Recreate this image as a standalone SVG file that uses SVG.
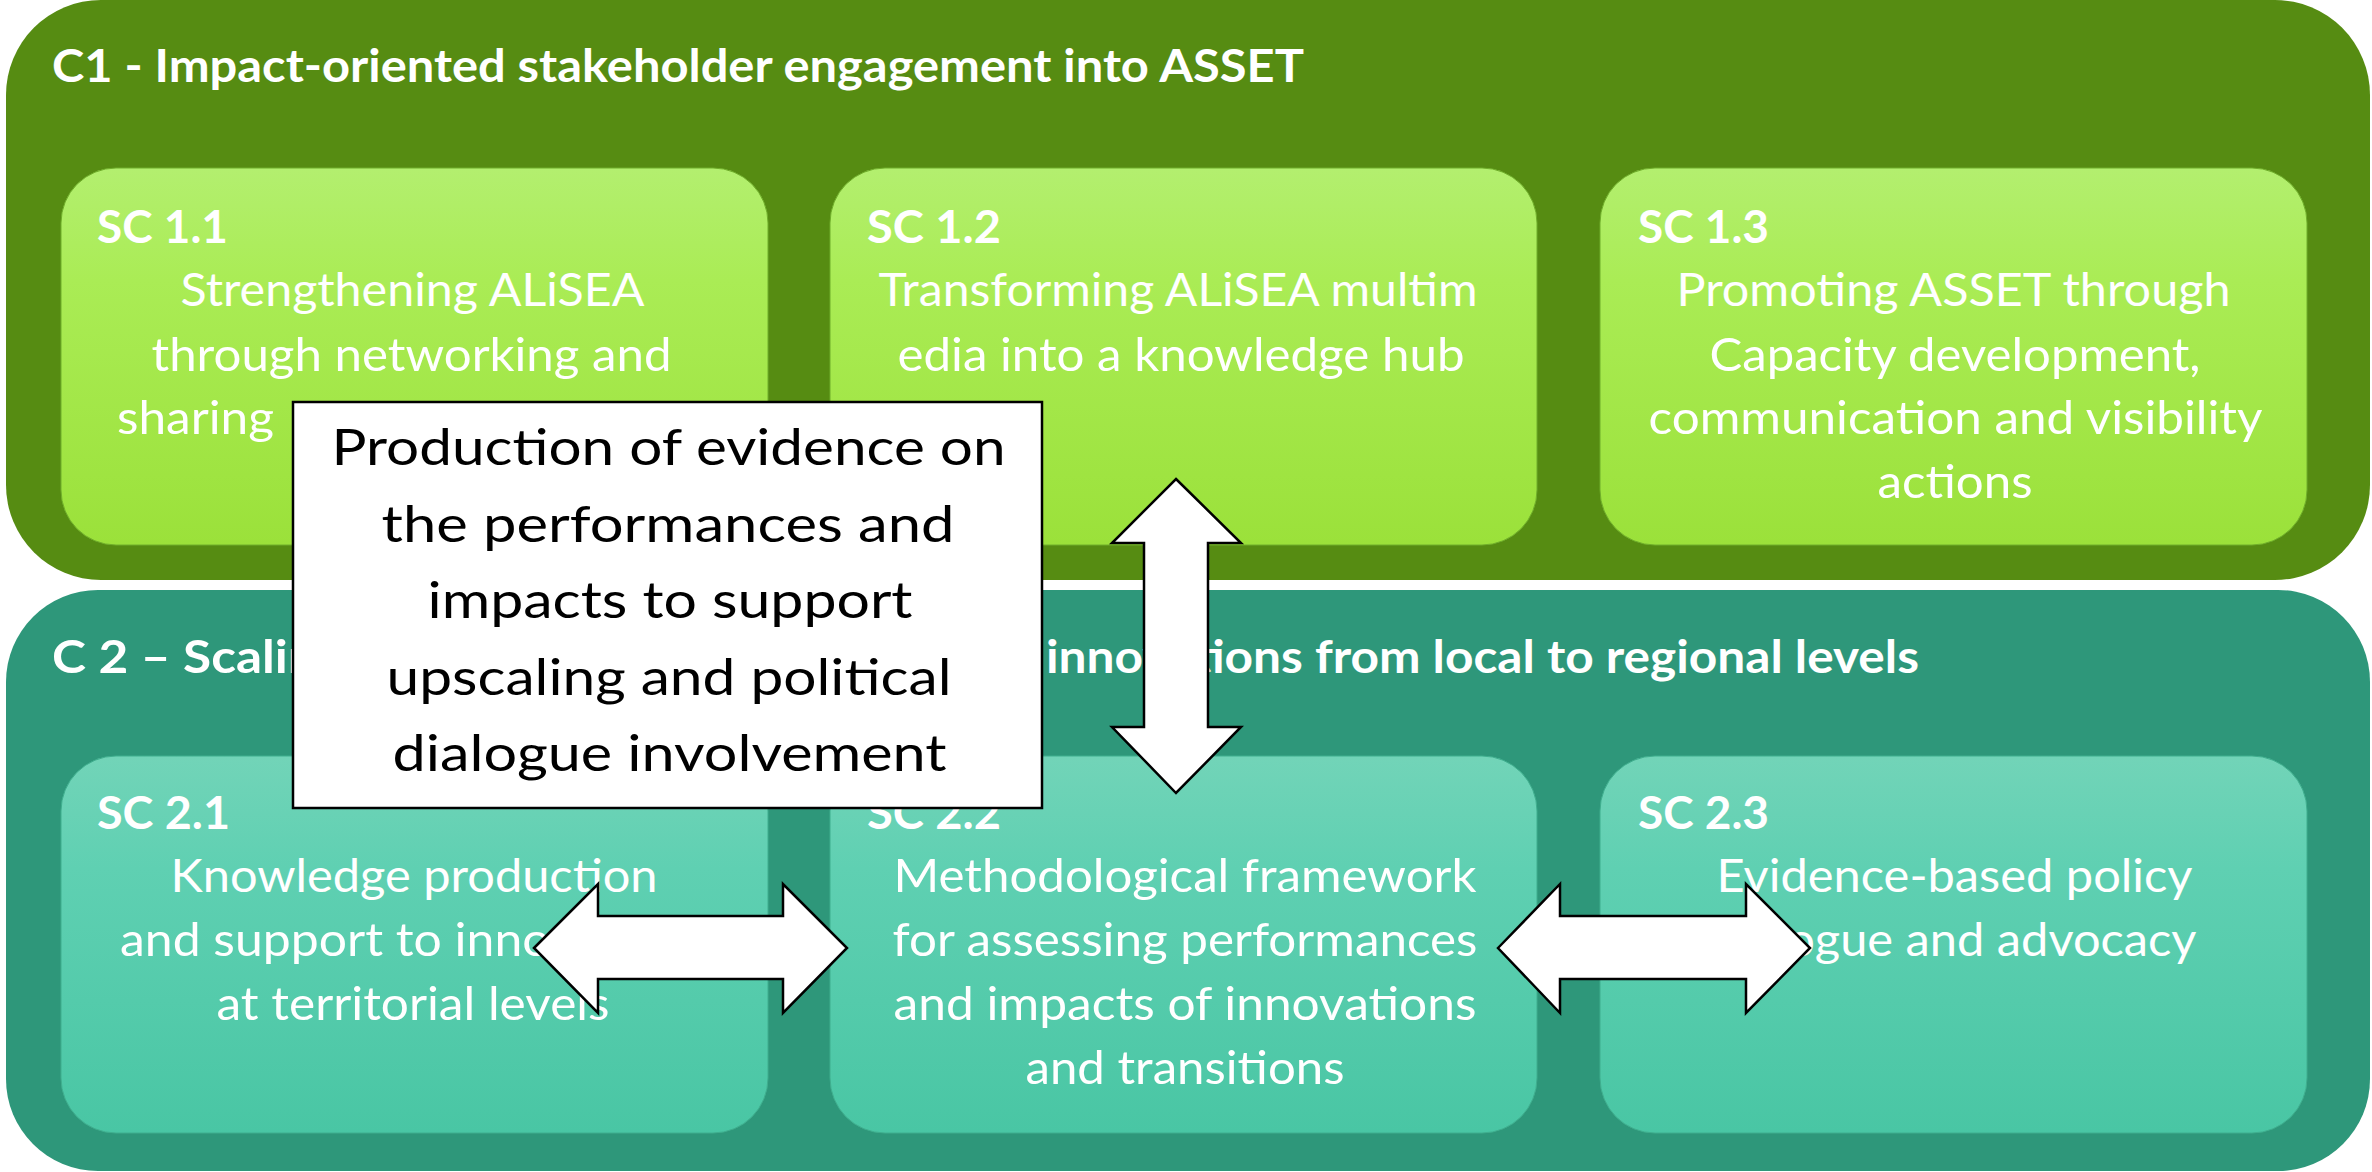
<svg xmlns="http://www.w3.org/2000/svg" width="2372" height="1172" viewBox="0 0 2372 1172">
  <style>
    .w { fill: #ffffff; font-family: Lato, "Open Sans", "Liberation Sans", sans-serif; }
    .title { font-size: 46px; font-weight: bold; }
    .lab { font-size: 46px; font-weight: bold; }
    .body { font-size: 47px; font-weight: normal; }
    .mid { text-anchor: middle; }
    .ev { fill: #000000; font-family: Lato, "Open Sans", "Liberation Sans", sans-serif; font-size: 51px; text-anchor: middle; }
    .arrow { fill: #ffffff; stroke: #000000; stroke-width: 2.5; stroke-linejoin: miter; }
    .sc1 { fill: url(#g1); stroke: #6fae2a; stroke-width: 1; }
    .sc2 { fill: url(#g2); stroke: #3fae8e; stroke-width: 1; }
  </style>
  <defs>
    <linearGradient id="g1" x1="0" y1="0" x2="0" y2="1">
      <stop offset="0" stop-color="#b3ef6f"/>
      <stop offset="0.3" stop-color="#aaec55"/>
      <stop offset="1" stop-color="#9be13a"/>
    </linearGradient>
    <linearGradient id="g2" x1="0" y1="0" x2="0" y2="1">
      <stop offset="0" stop-color="#72d4b8"/>
      <stop offset="0.3" stop-color="#5fd0b2"/>
      <stop offset="1" stop-color="#49c6a4"/>
    </linearGradient>
  </defs>

  <g id="c1">
    <rect x="6" y="0" width="2364" height="580" rx="95" ry="95" fill="#568c12"/>
    <text class="w title" x="52" y="82" textLength="1252" lengthAdjust="spacingAndGlyphs">C1 - Impact-oriented stakeholder engagement into ASSET</text>
  </g>

  <g id="sc11">
    <rect class="sc1" x="61" y="168" width="707" height="377" rx="55" ry="55"/>
    <text class="w lab" x="97" y="243" textLength="131" lengthAdjust="spacingAndGlyphs">SC 1.1</text>
    <text class="w body mid" x="412.5" y="306" textLength="464" lengthAdjust="spacingAndGlyphs">Strengthening ALiSEA</text>
    <text class="w body mid" x="411.5" y="371" textLength="520" lengthAdjust="spacingAndGlyphs">through networking and</text>
    <text class="w body" x="117" y="434" textLength="157" lengthAdjust="spacingAndGlyphs">sharing</text>
  </g>

  <g id="sc12">
    <rect class="sc1" x="830" y="168" width="707" height="377" rx="55" ry="55"/>
    <text class="w lab" x="867" y="243" textLength="134" lengthAdjust="spacingAndGlyphs">SC 1.2</text>
    <text class="w body mid" x="1178" y="306" textLength="599" lengthAdjust="spacingAndGlyphs">Transforming ALiSEA multim</text>
    <text class="w body mid" x="1181" y="371" textLength="567" lengthAdjust="spacingAndGlyphs">edia into a knowledge hub</text>
  </g>

  <g id="sc13">
    <rect class="sc1" x="1600" y="168" width="707" height="377" rx="55" ry="55"/>
    <text class="w lab" x="1638" y="243" textLength="131" lengthAdjust="spacingAndGlyphs">SC 1.3</text>
    <text class="w body mid" x="1953.5" y="306" textLength="554" lengthAdjust="spacingAndGlyphs">Promoting ASSET through</text>
    <text class="w body mid" x="1955" y="371" textLength="491" lengthAdjust="spacingAndGlyphs">Capacity development,</text>
    <text class="w body mid" x="1955.5" y="434" textLength="614" lengthAdjust="spacingAndGlyphs">communication and visibility</text>
    <text class="w body mid" x="1955" y="498" textLength="155" lengthAdjust="spacingAndGlyphs">actions</text>
  </g>

  <g id="c2">
    <rect x="6" y="590" width="2364" height="581" rx="92" ry="92" fill="#2e977a"/>
    <text class="w title" x="52" y="673" textLength="292" lengthAdjust="spacingAndGlyphs">C 2 – Scaling</text>
    <text class="w title" x="1046" y="673" textLength="873" lengthAdjust="spacingAndGlyphs">innovations from local to regional levels</text>
  </g>

  <g id="sc21">
    <rect class="sc2" x="61" y="756" width="707" height="377" rx="55" ry="55"/>
    <text class="w lab" x="97" y="829" textLength="133" lengthAdjust="spacingAndGlyphs">SC 2.1</text>
    <text class="w body mid" x="414" y="892" textLength="487" lengthAdjust="spacingAndGlyphs">Knowledge production</text>
    <text class="w body" x="120" y="956" textLength="588" lengthAdjust="spacingAndGlyphs">and support to innovations</text>
    <text class="w body mid" x="413" y="1020" textLength="393" lengthAdjust="spacingAndGlyphs">at territorial levels</text>
  </g>

  <g id="sc22">
    <rect class="sc2" x="830" y="756" width="707" height="377" rx="55" ry="55"/>
    <text class="w lab" x="867" y="829" textLength="134" lengthAdjust="spacingAndGlyphs">SC 2.2</text>
    <text class="w body mid" x="1185" y="892" textLength="583" lengthAdjust="spacingAndGlyphs">Methodological framework</text>
    <text class="w body mid" x="1185" y="956" textLength="585" lengthAdjust="spacingAndGlyphs">for assessing performances</text>
    <text class="w body mid" x="1185" y="1020" textLength="583" lengthAdjust="spacingAndGlyphs">and impacts of innovations</text>
    <text class="w body mid" x="1185" y="1084" textLength="319" lengthAdjust="spacingAndGlyphs">and transitions</text>
  </g>

  <g id="sc23">
    <rect class="sc2" x="1600" y="756" width="707" height="377" rx="55" ry="55"/>
    <text class="w lab" x="1638" y="829" textLength="131" lengthAdjust="spacingAndGlyphs">SC 2.3</text>
    <text class="w body mid" x="1954.5" y="892" textLength="476" lengthAdjust="spacingAndGlyphs">Evidence-based policy</text>
    <text class="w body mid" x="1954.5" y="956" textLength="484" lengthAdjust="spacingAndGlyphs">dialogue and advocacy</text>
  </g>

  <g id="evidence-box">
    <rect x="293" y="402" width="749" height="406" fill="#ffffff" stroke="#000000" stroke-width="2.5"/>
    <text class="ev" x="668.5" y="465" textLength="674" lengthAdjust="spacingAndGlyphs">Production of evidence on</text>
    <text class="ev" x="668" y="541.5" textLength="573" lengthAdjust="spacingAndGlyphs">the performances and</text>
    <text class="ev" x="670" y="618" textLength="485" lengthAdjust="spacingAndGlyphs">impacts to support</text>
    <text class="ev" x="669" y="695" textLength="565" lengthAdjust="spacingAndGlyphs">upscaling and political</text>
    <text class="ev" x="669.5" y="771" textLength="554" lengthAdjust="spacingAndGlyphs">dialogue involvement</text>
  </g>

  <g id="connectors">
    <polygon class="arrow" points="1176,479 1241,543 1208,543 1208,727 1241,727 1176,793 1112,727 1144,727 1144,543 1112,543"/>
    <polygon class="arrow" points="534,948 598,884 598,916 783,916 783,884 847,948 783,1013 783,979 598,979 598,1013"/>
    <polygon class="arrow" points="1498,948 1560,884 1560,916 1746,916 1746,884 1810,948 1746,1013 1746,979 1560,979 1560,1013"/>
  </g>
</svg>
